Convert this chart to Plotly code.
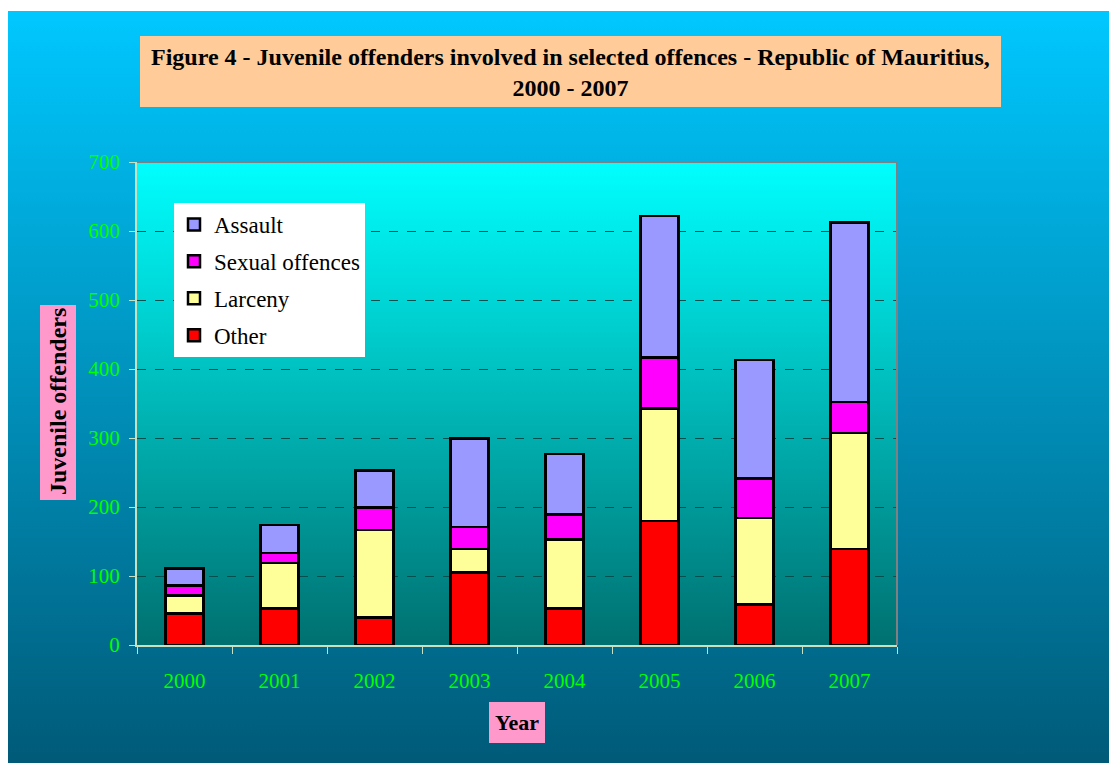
import base64
import plotly.graph_objects as go

years = ["2000", "2001", "2002", "2003", "2004", "2005", "2006", "2007"]
other = [46, 53, 40, 105, 53, 180, 59, 139]
larceny = [26, 66, 127, 34, 100, 163, 125, 168]
sexual = [14, 14, 32, 32, 36, 74, 57, 45]
assault = [25, 41, 54, 128, 88, 205, 172, 260]

series = [
    ("Other", other, "#FF0000"),
    ("Larceny", larceny, "#FFFF99"),
    ("Sexual offences", sexual, "#FF00FF"),
    ("Assault", assault, "#9999FF"),
]

# page offset (body margin) and figure size
OX, OY = 8, 8
W, H = 1117 - OX, 763 - OY
# plot area in screen pixels
L, R, T, B = 137, 897, 162, 645
PW, PH = R - L, B - T


def px(x):
    return (x - L) / PW


def py(y):
    return (B - y) / PH


def grad(c1, c2):
    svg = (
        '<svg xmlns="http://www.w3.org/2000/svg" width="100" height="100" '
        'viewBox="0 0 100 100" preserveAspectRatio="none">'
        '<defs><linearGradient id="g" x1="0" y1="0" x2="0" y2="1">'
        f'<stop offset="0" stop-color="{c1}"/><stop offset="1" stop-color="{c2}"/>'
        '</linearGradient></defs><rect x="0" y="0" width="100" height="100" fill="url(#g)"/></svg>'
    )
    return "data:image/svg+xml;base64," + base64.b64encode(svg.encode()).decode()


fig = go.Figure()
n = len(series)
for i, (name, vals, col) in enumerate(series):
    fig.add_trace(go.Bar(
        x=years, y=vals, name=name, legendgroup=name, legendrank=n - i,
        marker=dict(color=col, line=dict(color="#000000", width=2.5)),
        width=0.4,
    ))

serif = "Liberation Serif, Times New Roman, serif"

fig.update_layout(
    width=W, height=H,
    margin=dict(l=L - OX, r=W - (R - OX), t=T - OY, b=H - (B - OY), autoexpand=False),
    paper_bgcolor="white",
    plot_bgcolor="rgba(0,0,0,0)",
    barmode="stack",
    showlegend=True,
    legend=dict(
        x=px(174), y=py(203), xanchor="left", yanchor="top",
        bgcolor="white", borderwidth=0,
        font=dict(family=serif, size=23, color="black"),
        traceorder="grouped", tracegroupgap=4,
        itemwidth=30,
    ),
    xaxis=dict(
        showgrid=False, showline=True, linecolor="#C8E0C0", linewidth=2,
        ticks="outside", tickson="boundaries", ticklen=7, tickcolor="#C8E0C0",
        tickfont=dict(family=serif, size=21, color="#00FF00"),
        ticklabelstandoff=16,
    ),
    yaxis=dict(
        range=[0, 700], dtick=100, showline=True, linecolor="#C8E0C0", linewidth=2,
        ticks="outside", ticklen=6, tickcolor="#C8E0C0",
        tickfont=dict(family=serif, size=21, color="#00FF00"),
        ticklabelstandoff=5,
        showgrid=True, gridcolor="#005050", griddash="dash", gridwidth=1,
        zeroline=False,
    ),
    images=[
        dict(source=grad("#00C8FF", "#005A78"), xref="paper", yref="paper",
             x=px(8), y=py(11), sizex=px(1117) - px(8), sizey=py(11) - py(763),
             xanchor="left", yanchor="top", sizing="stretch", layer="below"),
        dict(source=grad("#00FFFF", "#007070"), xref="paper", yref="paper",
             x=0, y=1, sizex=1, sizey=1,
             xanchor="left", yanchor="top", sizing="stretch", layer="below"),
    ],
    shapes=[
        dict(type="line", xref="paper", yref="paper", x0=0, x1=1, y0=1, y1=1,
             line=dict(color="#808080", width=2)),
        dict(type="line", xref="paper", yref="paper", x0=1, x1=1, y0=0, y1=1,
             line=dict(color="#808080", width=2)),
        dict(type="rect", xref="paper", yref="paper", x0=px(140), x1=px(1001),
             y0=py(107), y1=py(36), fillcolor="#FFCC99", line=dict(width=0), layer="below"),
        dict(type="rect", xref="paper", yref="paper", x0=px(40), x1=px(76),
             y0=py(500), y1=py(305), fillcolor="#FF99CC", line=dict(width=0), layer="below"),
        dict(type="rect", xref="paper", yref="paper", x0=px(489), x1=px(545),
             y0=py(743), y1=py(702), fillcolor="#FF99CC", line=dict(width=0), layer="below"),
    ],
    annotations=[
        dict(text="<b>Figure 4 - Juvenile offenders involved in selected offences - Republic of Mauritius,<br>2000 - 2007</b>",
             xref="paper", yref="paper", x=px(570), y=py(72), xanchor="center", yanchor="middle",
             showarrow=False, font=dict(family=serif, size=24, color="black")),
        dict(text="<b>Juvenile offenders</b>", textangle=-90,
             xref="paper", yref="paper", x=px(58), y=py(402), xanchor="center", yanchor="middle",
             showarrow=False, font=dict(family=serif, size=24, color="black")),
        dict(text="<b>Year</b>",
             xref="paper", yref="paper", x=px(517), y=py(722), xanchor="center", yanchor="middle",
             showarrow=False, font=dict(family=serif, size=22, color="black")),
    ],
)

fig.write_html("out.html")
